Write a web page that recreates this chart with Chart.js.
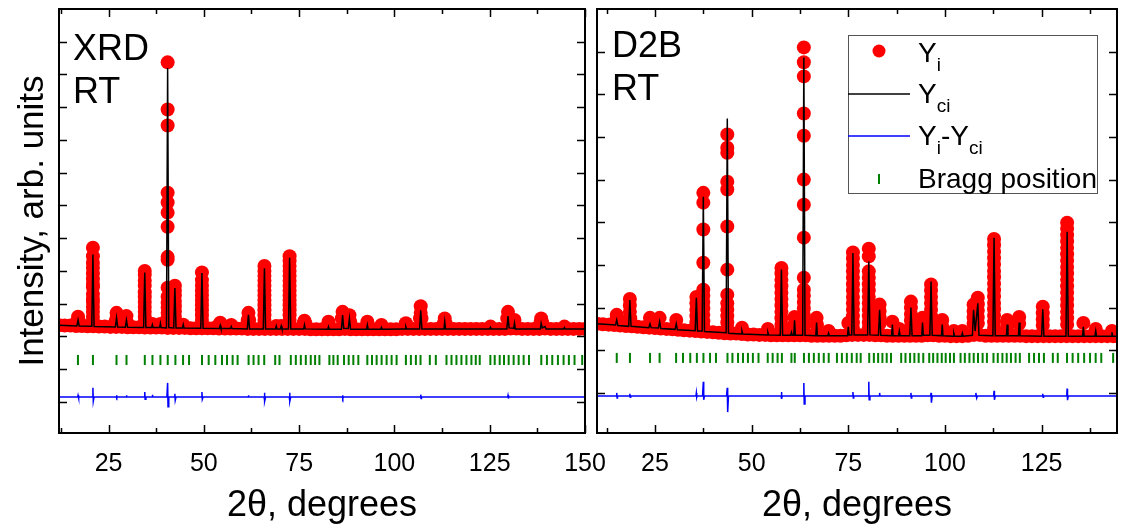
<!DOCTYPE html>
<html>
<head>
<meta charset="utf-8">
<script src="https://cdn.jsdelivr.net/npm/chart.js@4"></script>
<style>
  body { margin: 0; background: #fff; width: 1124px; height: 531px; overflow: hidden; position: relative; }
  canvas { position: absolute; top: 0; }
  #xrdChart { left: 0; }
  #d2bChart { left: 590px; }
</style>
</head>
<body>
<canvas id="xrdChart" width="620" height="531"></canvas>
<canvas id="d2bChart" width="534" height="531"></canvas>
<script>
const FONT = '"Liberation Sans", Arial, sans-serif';
Chart.defaults.font.family = FONT;

// ---- XRD, RT (left panel) ----
const xrdTickLabels = [25, 50, 75, 100, 125, 150];
const xrdMinorTicks = [12.5, 25, 37.5, 50, 62.5, 75, 87.5, 100, 112.5, 125, 137.5, 150];
const xrdYTicks = [0, 1, 2, 3, 4, 5, 6, 7, 8, 9, 10, 11];

const xrdBackground = [
  [12, 2.34], [13.5, 2.33], [15, 2.33], [16.5, 2.32], [18, 2.32], [19.5, 2.31], [21, 2.31], [22.5, 2.3],
  [24, 2.3], [25.5, 2.29], [27, 2.29], [28.5, 2.29], [30, 2.28], [31.5, 2.28], [33, 2.28], [34.5, 2.27],
  [36, 2.27], [37.5, 2.27], [39, 2.27], [40.5, 2.26], [42, 2.26], [43.5, 2.26], [45, 2.26], [46.5, 2.25],
  [48, 2.25], [49.5, 2.25], [51, 2.25], [52.5, 2.25], [54, 2.24], [55.5, 2.24], [57, 2.24], [58.5, 2.24],
  [60, 2.24], [61.5, 2.23], [63, 2.23], [64.5, 2.23], [66, 2.23], [67.5, 2.23], [69, 2.23], [70.5, 2.23],
  [72, 2.23], [73.5, 2.23], [75, 2.23], [76.5, 2.23], [78, 2.22], [79.5, 2.22], [81, 2.22], [82.5, 2.22],
  [84, 2.22], [85.5, 2.22], [87, 2.23], [88.5, 2.22], [90, 2.22], [91.5, 2.22], [93, 2.22], [94.5, 2.22],
  [96, 2.22], [97.5, 2.22], [99, 2.22], [100.5, 2.22], [102, 2.23], [103.5, 2.23], [105, 2.23], [106.5, 2.23],
  [108, 2.23], [109.5, 2.23], [111, 2.23], [112.5, 2.23], [114, 2.23], [115.5, 2.23], [117, 2.23], [118.5, 2.23],
  [120, 2.23], [121.5, 2.23], [123, 2.23], [124.5, 2.23], [126, 2.23], [127.5, 2.23], [129, 2.23], [130.5, 2.24],
  [132, 2.24], [133.5, 2.23], [135, 2.23], [136.5, 2.23], [138, 2.23], [139.5, 2.24], [141, 2.23], [142.5, 2.23],
  [144, 2.23], [145.5, 2.23], [147, 2.23], [148.5, 2.23], [150, 2.23]
];

// observed points stacked on the peaks: [2theta, [intensities]]
const xrdPeakObs = [
  [16.7, [2.45]], [17.0, [2.6]], [17.3, [2.45]],
  [20.9, [4.71, 4.45, 4.25, 4.1, 3.92, 3.75, 3.6, 3.5, 3.3, 3.15, 3.05, 2.9, 2.75, 2.6, 2.45]],
  [26.8, [2.45]], [27.1, [2.72, 2.55]], [27.4, [2.45]],
  [29.5, [2.42]], [29.7, [2.62]], [29.9, [2.42]],
  [34.5, [4.0, 3.88, 3.7, 3.55, 3.35, 3.2, 3.05, 2.9, 2.75, 2.6, 2.45]],
  [36.5, [2.38]], [38.6, [2.38]],
  [40.5, [10.37, 8.93, 8.44, 6.39, 6.09, 5.78, 5.35, 4.43, 4.34, 3.49, 3.21, 3.03, 2.88, 2.72, 2.56, 2.42]],
  [42.4, [3.55, 3.4, 3.25, 3.08, 2.92, 2.76, 2.6, 2.45]],
  [44.6, [2.36]],
  [49.5, [3.95, 3.72, 3.55, 3.4, 3.25, 3.1, 2.95, 2.8, 2.65, 2.5]],
  [54.0, [2.36]], [54.3, [2.42]], [54.6, [2.36]], [57.2, [2.35]],
  [61.5, [2.5]], [61.7, [2.72]], [61.9, [2.5]],
  [65.9, [4.15, 4.0, 3.85, 3.7, 3.55, 3.4, 3.25, 3.1, 2.95, 2.8, 2.65, 2.5]],
  [69.0, [2.32]], [70.3, [2.32]],
  [72.5, [4.45, 4.3, 4.15, 4.0, 3.85, 3.7, 3.55, 3.4, 3.25, 3.1, 2.95, 2.8, 2.65, 2.5]],
  [76.2, [2.4]], [76.4, [2.48]], [76.6, [2.4]], [82.7, [2.45]],
  [86.2, [2.55]], [86.4, [2.75]], [86.6, [2.55]], [88.2, [2.65]], [88.4, [2.45]],
  [92.9, [2.45]], [96.6, [2.35]], [103.0, [2.4]],
  [106.7, [2.55]], [106.9, [2.92, 2.72]], [107.1, [2.55]],
  [113.0, [2.4]], [113.2, [2.55]], [113.4, [2.4]], [125.2, [2.3]],
  [129.6, [2.55]], [129.8, [2.75]], [130.0, [2.55]], [131.5, [2.5]],
  [138.3, [2.42]], [138.5, [2.55]], [138.8, [2.42]], [144.6, [2.3]]
];

const xrdCalc = [
  [12, 2.34], [16.7, 2.32], [17.0, 2.5], [17.3, 2.32],
  [20.6, 2.31], [20.9, 4.5], [21.2, 2.3],
  [26.8, 2.29], [27.1, 2.57], [27.4, 2.29], [29.4, 2.28], [29.7, 2.5], [30.0, 2.28],
  [34.2, 2.27], [34.5, 3.95], [34.8, 2.27], [36.3, 2.27], [36.5, 2.36], [36.7, 2.27],
  [38.4, 2.27], [38.6, 2.4], [38.8, 2.27], [40.2, 2.26], [40.5, 10.2], [40.8, 2.27],
  [42.1, 2.26], [42.4, 3.48], [42.7, 2.26], [44.4, 2.26], [44.6, 2.36], [44.8, 2.26],
  [49.2, 2.25], [49.5, 3.94], [49.8, 2.25], [54.1, 2.24], [54.3, 2.33], [54.5, 2.24],
  [57.0, 2.24], [57.2, 2.3], [57.4, 2.24], [61.4, 2.23], [61.7, 2.66], [62.0, 2.23],
  [65.6, 2.23], [65.9, 4.08], [66.2, 2.23], [68.8, 2.23], [69.0, 2.32], [69.2, 2.23],
  [70.1, 2.23], [70.3, 2.32], [70.5, 2.23], [72.2, 2.23], [72.5, 4.4], [72.8, 2.23],
  [76.2, 2.23], [76.4, 2.35], [76.6, 2.23], [82.5, 2.22], [82.7, 2.3], [82.9, 2.22],
  [86.1, 2.22], [86.4, 2.65], [86.7, 2.25], [87.9, 2.24], [88.2, 2.55], [88.5, 2.22],
  [92.7, 2.22], [92.9, 2.35], [93.1, 2.22], [96.4, 2.22], [96.6, 2.28], [96.8, 2.22],
  [102.8, 2.23], [103.0, 2.3], [103.2, 2.23], [106.6, 2.23], [106.9, 2.8], [107.2, 2.23],
  [113.0, 2.23], [113.2, 2.45], [113.4, 2.23], [125.0, 2.23], [125.2, 2.28], [125.4, 2.23],
  [129.5, 2.23], [129.8, 2.62], [130.1, 2.26], [131.3, 2.25], [131.5, 2.4], [131.7, 2.23],
  [138.3, 2.23], [138.5, 2.4], [138.8, 2.26], [139.5, 2.3], [139.8, 2.23],
  [144.4, 2.23], [144.6, 2.27], [144.8, 2.23], [150, 2.23]
];

const xrdDiff = [
  [12, 0.15], [16.9, 0.15], [17.0, 0.2], [17.1, 0.12], [17.2, 0.15],
  [20.7, 0.15], [20.9, 0.43], [21.0, 0.02], [21.2, 0.15],
  [27.0, 0.15], [27.1, 0.2], [27.2, 0.12], [27.3, 0.15], [29.6, 0.15], [29.7, 0.2], [29.8, 0.15],
  [34.4, 0.15], [34.5, 0.3], [34.6, 0.08], [34.8, 0.15], [36.4, 0.15], [36.5, 0.22], [36.6, 0.15],
  [40.3, 0.15], [40.5, 0.58], [40.6, -0.15], [40.8, 0.15],
  [42.3, 0.15], [42.4, 0.25], [42.5, 0.05], [42.7, 0.15],
  [49.4, 0.15], [49.5, 0.3], [49.6, 0.08], [49.8, 0.15], [61.6, 0.15], [61.7, 0.2], [61.8, 0.15],
  [65.8, 0.15], [65.9, 0.28], [66.0, 0.02], [66.2, 0.15],
  [72.4, 0.15], [72.5, 0.28], [72.6, 0.02], [72.8, 0.15],
  [86.3, 0.15], [86.4, 0.2], [86.5, 0.1], [86.6, 0.15],
  [106.8, 0.15], [106.9, 0.22], [107.0, 0.1], [107.1, 0.15],
  [129.7, 0.15], [129.8, 0.2], [129.9, 0.1], [130.0, 0.15], [150, 0.15]
];

const xrdBragg = [
  16.97, 20.9, 27.09, 29.71, 34.51, 36.52, 38.61, 40.53, 42.54, 44.55, 46.12, 49.52, 51.27, 53.01,
  54.76, 56.07, 57.55, 58.86, 61.74, 63.04, 64.35, 65.84, 68.72, 69.85, 72.82, 74.13, 75.44, 76.75,
  78.05, 79.19, 80.32, 82.94, 83.99, 85.12, 86.78, 88.0, 89.22, 90.53, 92.89, 94.11, 95.33, 96.64,
  97.95, 99.26, 100.57, 103.01, 104.32, 105.63, 106.85, 109.29, 110.86, 113.66, 114.97, 116.27,
  117.58, 118.89, 120.2, 121.34, 122.38, 125.17, 126.31, 127.62, 128.75, 129.97, 131.28, 132.59,
  133.9, 135.3, 138.53, 140.01, 141.41, 142.89, 144.38, 145.77, 147.25, 149.26
];
const xrdBraggLevel = 1.28;

// ---- D2B, RT (right panel) ----
const d2bTickLabels = [25, 50, 75, 100, 125];
const d2bMinorTicks = [12.5, 25, 37.5, 50, 62.5, 75, 87.5, 100, 112.5, 125, 137.5];
const d2bYTicks = [0, 1, 2, 3, 4, 5, 6, 7, 8];

const d2bBackground = [
  [10, 1.62], [11.5, 1.61], [13, 1.6], [14.5, 1.59], [16, 1.58], [17.5, 1.57], [19, 1.56], [20.5, 1.55],
  [22, 1.54], [23.5, 1.53], [25, 1.52], [26.5, 1.51], [28, 1.5], [29.5, 1.49], [31, 1.48], [32.5, 1.47],
  [34, 1.46], [35.5, 1.45], [37, 1.44], [38.5, 1.43], [40, 1.42], [41.5, 1.41], [43, 1.4], [44.5, 1.39],
  [46, 1.39], [47.5, 1.38], [49, 1.37], [50.5, 1.37], [52, 1.36], [53.5, 1.36], [55, 1.35], [56.5, 1.35],
  [58, 1.35], [59.5, 1.35], [61, 1.35], [62.5, 1.35], [64, 1.35], [65.5, 1.34], [67, 1.34], [68.5, 1.34],
  [70, 1.34], [71.5, 1.34], [73, 1.34], [74.5, 1.35], [76, 1.36], [77.5, 1.36], [79, 1.36], [80.5, 1.36],
  [82, 1.35], [83.5, 1.35], [85, 1.34], [86.5, 1.34], [88, 1.34], [89.5, 1.34], [91, 1.34], [92.5, 1.34],
  [94, 1.34], [95.5, 1.35], [97, 1.35], [98.5, 1.34], [100, 1.34], [101.5, 1.33], [103, 1.33], [104.5, 1.33],
  [106, 1.34], [107.5, 1.36], [109, 1.36], [110.5, 1.34], [112, 1.34], [113.5, 1.34], [115, 1.34], [116.5, 1.34],
  [118, 1.34], [119.5, 1.34], [121, 1.33], [122.5, 1.33], [124, 1.33], [125.5, 1.33], [127, 1.33], [128.5, 1.33],
  [130, 1.33], [131.5, 1.33], [133, 1.33], [134.5, 1.33], [136, 1.33], [137.5, 1.33], [139, 1.33], [140.5, 1.33],
  [142, 1.33], [143.5, 1.33], [144.5, 1.33]
];

const d2bPeakObs = [
  [14.9, [1.7]], [15.1, [1.83]], [15.3, [1.7]],
  [18.5, [2.2, 2.05, 1.9]], [18.4, [1.75]], [18.6, [1.75]],
  [23.7, [1.76]], [26.2, [1.76]], [30.5, [1.71]],
  [35.7, [2.25, 2.1, 1.95, 1.8, 1.65, 1.52]],
  [37.5, [4.69, 4.46, 3.83, 3.05, 2.42, 2.28, 2.13, 1.98, 1.83, 1.68, 1.55]],
  [43.7, [6.06, 5.75, 5.63, 4.95, 4.77, 3.9, 2.89, 2.3, 2.1, 1.95, 1.8, 1.65, 1.52]],
  [47.5, [1.53]], [54.2, [1.5]],
  [57.7, [2.93, 2.8, 2.65, 2.5, 2.35, 2.2, 2.05, 1.9, 1.75, 1.6, 1.48]],
  [60.3, [1.48]], [61.0, [1.6]], [61.1, [1.78]], [61.2, [1.6]],
  [63.5, [8.1, 7.75, 7.42, 6.55, 6.03, 5.0, 4.41, 3.64, 2.7, 2.42, 2.28, 2.13, 1.98, 1.83, 1.68, 1.55]],
  [66.7, [1.6]], [66.8, [1.76]], [66.9, [1.6]], [69.9, [1.45]], [75.0, [1.64]],
  [76.2, [3.29, 3.15, 3.0, 2.85, 2.7, 2.55, 2.4, 2.25, 2.1, 1.95, 1.8, 1.65, 1.52]],
  [80.3, [3.38, 3.2, 2.85, 2.7, 2.55, 2.4, 2.25, 2.1, 1.95, 1.8, 1.65, 1.52]],
  [83.1, [2.07, 1.92, 1.77, 1.62]], [86.4, [1.67]], [88.2, [1.5]],
  [91.2, [2.14, 2.0, 1.85, 1.7, 1.55]], [94.2, [1.76, 1.6]],
  [96.4, [2.54, 2.4, 2.25, 2.1, 1.95, 1.8, 1.65, 1.52]], [99.3, [1.71, 1.55]],
  [102.3, [1.45]], [104.5, [1.45]],
  [107.4, [2.07, 1.92, 1.77, 1.62]], [108.5, [2.23, 2.08, 1.93, 1.78, 1.63]],
  [112.7, [3.61, 3.46, 3.31, 3.16, 3.01, 2.86, 2.71, 2.56, 2.41, 2.26, 2.11, 1.96, 1.81, 1.66, 1.52]],
  [116.1, [1.71, 1.55]], [119.2, [1.78, 1.62]], [125.3, [2.02, 1.87, 1.72, 1.58]],
  [131.6, [3.99, 3.85, 3.7, 3.55, 3.4, 3.25, 3.1, 2.95, 2.8, 2.65, 2.5, 2.35, 2.2, 2.05, 1.9, 1.75, 1.6]],
  [135.8, [1.64]], [139.0, [1.5]], [143.2, [1.45]]
];

const d2bCalc = [
  [10, 1.62], [14.8, 1.59], [15.1, 1.71], [15.4, 1.58], [18.2, 1.56], [18.5, 2.18], [18.8, 1.56],
  [23.4, 1.53], [23.7, 1.62], [24.0, 1.53], [25.9, 1.52], [26.2, 1.67], [26.5, 1.51],
  [30.2, 1.49], [30.5, 1.62], [30.8, 1.48], [35.4, 1.46], [35.7, 2.23], [36.0, 1.45],
  [37.2, 1.45], [37.5, 4.6], [37.8, 1.44], [43.4, 1.41], [43.7, 6.43], [44.0, 1.4],
  [47.3, 1.38], [47.5, 1.45], [47.7, 1.38], [54.0, 1.36], [54.2, 1.42], [54.4, 1.36],
  [57.4, 1.35], [57.7, 2.89], [58.0, 1.35], [60.1, 1.35], [60.3, 1.42], [60.5, 1.35],
  [60.9, 1.35], [61.1, 1.7], [61.3, 1.35], [63.2, 1.35], [63.5, 7.86], [63.8, 1.35],
  [66.6, 1.34], [66.8, 1.65], [67.0, 1.34], [69.7, 1.34], [69.9, 1.4], [70.1, 1.34],
  [74.8, 1.34], [75.0, 1.55], [75.2, 1.36], [75.9, 1.36], [76.2, 3.28], [76.5, 1.36],
  [80.0, 1.36], [80.3, 3.08], [80.6, 1.36], [82.8, 1.35], [83.1, 1.95], [83.4, 1.35],
  [86.2, 1.34], [86.4, 1.6], [86.6, 1.34], [88.0, 1.34], [88.2, 1.45], [88.4, 1.34],
  [90.9, 1.34], [91.2, 2.0], [91.5, 1.34], [94.0, 1.34], [94.2, 1.65], [94.4, 1.35],
  [96.1, 1.35], [96.4, 2.61], [96.7, 1.35], [99.1, 1.34], [99.3, 1.6], [99.5, 1.34],
  [102.1, 1.33], [102.3, 1.4], [102.5, 1.33], [104.3, 1.33], [104.5, 1.4], [104.7, 1.33],
  [107.1, 1.35], [107.4, 1.95], [107.8, 1.45], [108.5, 2.1], [108.8, 1.35],
  [112.4, 1.34], [112.7, 3.64], [113.0, 1.34], [115.9, 1.34], [116.1, 1.6], [116.3, 1.34],
  [119.0, 1.34], [119.2, 1.65], [119.4, 1.34], [125.0, 1.33], [125.3, 1.96], [125.6, 1.33],
  [131.3, 1.33], [131.6, 3.78], [131.9, 1.33], [135.6, 1.33], [135.8, 1.55], [136.0, 1.33],
  [138.8, 1.33], [139.0, 1.45], [139.2, 1.33], [143.0, 1.33], [143.2, 1.42], [143.4, 1.33],
  [144.5, 1.33]
];

const d2bDiff = [
  [10, -0.07], [15.0, -0.07], [15.1, 0.0], [15.2, -0.12], [15.3, -0.07],
  [18.4, -0.07], [18.5, -0.02], [18.6, -0.1], [18.7, -0.07],
  [35.6, -0.07], [35.7, 0.0], [35.8, -0.1], [35.9, -0.07],
  [37.3, -0.07], [37.5, 0.26], [37.6, -0.16], [37.8, -0.07],
  [43.5, -0.07], [43.7, 0.12], [43.8, -0.45], [44.0, -0.07],
  [57.6, -0.07], [57.7, 0.02], [57.8, -0.14], [57.9, -0.07],
  [63.3, -0.07], [63.5, 0.23], [63.6, -0.26], [63.8, -0.07],
  [76.1, -0.07], [76.2, 0.02], [76.3, -0.12], [76.4, -0.07],
  [80.2, -0.07], [80.3, 0.26], [80.4, -0.16], [80.6, -0.07],
  [83.0, -0.07], [83.1, 0.0], [83.2, -0.07],
  [91.1, -0.07], [91.2, 0.0], [91.3, -0.12], [91.4, -0.07],
  [96.3, -0.07], [96.4, 0.0], [96.5, -0.23], [96.7, -0.07],
  [107.9, -0.07], [108.0, 0.0], [108.2, -0.12], [108.4, -0.07],
  [112.6, -0.07], [112.7, 0.05], [112.8, -0.16], [113.0, -0.07],
  [125.2, -0.07], [125.3, -0.02], [125.4, -0.1], [125.5, -0.07],
  [131.5, -0.07], [131.6, 0.1], [131.7, -0.17], [131.9, -0.07], [144.5, -0.07]
];

const d2bBragg = [
  15.11, 18.52, 23.72, 26.19, 30.46, 32.25, 34.12, 35.83, 37.53, 39.24, 40.77, 43.75, 45.03, 46.48,
  47.76, 49.04, 50.32, 51.77, 54.16, 55.43, 56.71, 57.82, 60.29, 61.15, 63.53, 64.81, 66.09, 67.37,
  68.65, 69.93, 72.06, 73.34, 74.62, 75.9, 77.17, 78.2, 80.41, 81.61, 82.72, 83.82, 84.93, 86.04,
  88.68, 89.79, 90.98, 92.09, 93.2, 94.39, 95.93, 96.95, 98.06, 99.17, 100.19, 101.3, 102.32,
  104.03, 105.14, 106.33, 107.44, 108.55, 109.74, 110.85, 112.55, 113.66, 114.86, 115.97, 117.07,
  118.27, 119.37, 121.76, 123.04, 124.32, 125.6, 127.9, 129.18, 131.57, 133.02, 134.46, 136.0,
  137.53, 138.98, 140.43, 143.5
];
const d2bBraggLevel = 0.82;

const legendLabels = [
  [['Y'], ['i', true]],
  [['Y'], ['ci', true]],
  [['Y'], ['i', true], ['-'], ['Y'], ['ci', true]],
  [['Bragg position']]
];

function toPoints(pairs) {
  return pairs.map(([x, y]) => ({ x, y }));
}

function stackPoints(stacks) {
  return stacks.flatMap(([x, ys]) => ys.map(y => ({ x, y })));
}

// inward ticks on all four sides, the frame and the panel label
const framePlugin = {
  id: 'frame',
  afterDatasetsDraw(chart, args, opts) {
    const { ctx, chartArea: a, scales: { x, y } } = chart;
    ctx.save();
    ctx.strokeStyle = '#000';
    ctx.lineWidth = 1.5;
    ctx.beginPath();
    opts.xTicks.forEach(v => {
      const px = Math.round(x.getPixelForValue(v)) + 0.5;
      const len = v % 25 === 0 ? 8 : 5;
      ctx.moveTo(px, a.bottom); ctx.lineTo(px, a.bottom - len);
      ctx.moveTo(px, a.top); ctx.lineTo(px, a.top + len);
    });
    opts.yTicks.forEach(v => {
      const py = Math.round(y.getPixelForValue(v)) + 0.5;
      ctx.moveTo(a.left, py); ctx.lineTo(a.left + 8, py);
      ctx.moveTo(a.right, py); ctx.lineTo(a.right - 8, py);
    });
    ctx.stroke();
    ctx.lineWidth = 2;
    ctx.strokeRect(a.left, a.top, a.right - a.left, a.bottom - a.top);
    ctx.fillStyle = '#000';
    ctx.font = '36px ' + FONT;
    ctx.textBaseline = 'alphabetic';
    opts.labels.forEach((t, i) => ctx.fillText(t, a.left + opts.labelX, a.top + opts.labelY[i]));
    ctx.restore();
  }
};

function drawRich(ctx, parts, x, y) {
  parts.forEach(([t, sub]) => {
    ctx.font = (sub ? '19px ' : '28px ') + FONT;
    ctx.fillText(t, x, sub ? y + 9 : y);
    x += ctx.measureText(t).width;
  });
}

const legendPlugin = {
  id: 'fitLegend',
  afterDraw(chart) {
    const { ctx, chartArea: a } = chart;
    const bx = a.left + 251, by = a.top + 26, bw = 249, bh = 158;
    ctx.save();
    ctx.fillStyle = '#fff';
    ctx.fillRect(bx, by, bw, bh);
    ctx.strokeStyle = '#555';
    ctx.lineWidth = 1;
    ctx.strokeRect(bx + 0.5, by + 0.5, bw, bh);

    ctx.fillStyle = '#ff0000';
    ctx.beginPath();
    ctx.arc(bx + 31, by + 16, 6.5, 0, Math.PI * 2);
    ctx.fill();

    ctx.lineWidth = 1.5;
    ctx.strokeStyle = '#000';
    ctx.beginPath(); ctx.moveTo(bx, by + 59); ctx.lineTo(bx + 62, by + 59); ctx.stroke();
    ctx.strokeStyle = '#0000ff';
    ctx.beginPath(); ctx.moveTo(bx, by + 101); ctx.lineTo(bx + 62, by + 101); ctx.stroke();
    ctx.strokeStyle = '#008000';
    ctx.lineWidth = 2;
    ctx.beginPath(); ctx.moveTo(bx + 31, by + 139); ctx.lineTo(bx + 31, by + 149); ctx.stroke();

    ctx.fillStyle = '#000';
    ctx.textBaseline = 'alphabetic';
    const baselines = [27, 68, 110, 153];
    legendLabels.forEach((parts, i) => drawRich(ctx, parts, bx + 70, by + baselines[i]));
    ctx.restore();
  }
};

function makeDatasets(calc, background, peaks, diff, bragg, braggLevel) {
  return [
    { label: 'Yci', data: toPoints(calc), showLine: true, borderColor: '#000', borderWidth: 1.5,
      pointRadius: 0, tension: 0, order: 0 },
    { label: 'Yi', data: toPoints(background).concat(stackPoints(peaks)), showLine: false,
      pointRadius: 7, pointBackgroundColor: '#ff0000', pointBorderColor: '#ff0000', pointBorderWidth: 0, order: 1 },
    { label: 'Yi-Yci', data: toPoints(diff), showLine: true, borderColor: '#0000ff', borderWidth: 1.5,
      pointRadius: 0, tension: 0, order: 2 },
    { label: 'Bragg position', data: bragg.map(x => ({ x, y: braggLevel })), showLine: false,
      pointStyle: 'line', rotation: 90, pointRadius: 5, pointBorderColor: '#008000', pointBorderWidth: 2, order: 3 }
  ];
}

function makeOptions(cfg) {
  return {
    responsive: false,
    animation: false,
    events: [],
    layout: { padding: { top: 9, right: cfg.padRight, left: 0, bottom: 0 } },
    plugins: {
      legend: { display: false },
      tooltip: { enabled: false },
      frame: { xTicks: cfg.minorTicks, yTicks: cfg.yTicks, labels: cfg.labels, labelX: cfg.labelX, labelY: cfg.labelY }
    },
    scales: {
      x: {
        type: 'linear', min: cfg.xMin, max: cfg.xMax,
        grid: { display: false }, border: { display: false },
        afterBuildTicks: s => { s.ticks = cfg.tickLabels.map(v => ({ value: v })); },
        afterFit: s => { s.height = 98; },
        ticks: { font: { size: 25 }, color: '#000', padding: 8, autoSkip: false, maxRotation: 0 },
        title: { display: true, text: '2θ, degrees', font: { size: 36 }, color: '#000', padding: { top: 0, bottom: 3 } }
      },
      y: {
        type: 'linear', min: cfg.yMin, max: cfg.yMax,
        grid: { display: false }, border: { display: false },
        ticks: { display: false },
        afterFit: s => { s.width = cfg.yWidth; },
        title: { display: cfg.yTitle, text: 'Intensity, arb. units', font: { size: 35 }, color: '#000', padding: { top: 12, bottom: 0 } }
      }
    }
  };
}

new Chart(document.getElementById('xrdChart'), {
  type: 'scatter',
  data: { datasets: makeDatasets(xrdCalc, xrdBackground, xrdPeakObs, xrdDiff, xrdBragg, xrdBraggLevel) },
  options: makeOptions({
    padRight: 35, xMin: 12, xMax: 150, yMin: -0.95, yMax: 12, yWidth: 59, yTitle: true,
    tickLabels: xrdTickLabels, minorTicks: xrdMinorTicks, yTicks: xrdYTicks,
    labels: ['XRD', 'RT'], labelX: 14, labelY: [51, 94]
  }),
  plugins: [framePlugin]
});

new Chart(document.getElementById('d2bChart'), {
  type: 'scatter',
  data: { datasets: makeDatasets(d2bCalc, d2bBackground, d2bPeakObs, d2bDiff, d2bBragg, d2bBraggLevel) },
  options: makeOptions({
    padRight: 1, xMin: 10, xMax: 144.5, yMin: -0.94, yMax: 9, yWidth: 7, yTitle: false,
    tickLabels: d2bTickLabels, minorTicks: d2bMinorTicks, yTicks: d2bYTicks,
    labels: ['D2B', 'RT'], labelX: 15, labelY: [48, 91]
  }),
  plugins: [framePlugin, legendPlugin]
});
</script>
</body>
</html>
